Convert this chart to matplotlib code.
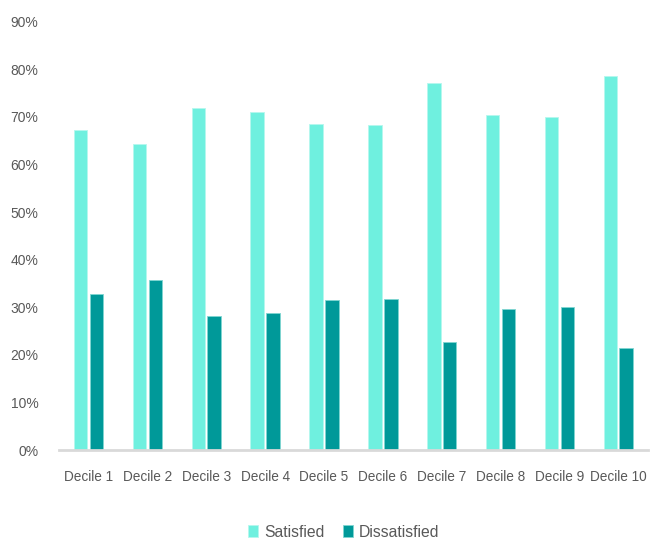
import numpy as np
import matplotlib.pyplot as plt

plt.rcParams['font.family'] = ['Liberation Sans', 'DejaVu Sans']

deciles = ['Decile 1', 'Decile 2', 'Decile 3', 'Decile 4', 'Decile 5',
           'Decile 6', 'Decile 7', 'Decile 8', 'Decile 9', 'Decile 10']
satisfied = [67.2, 64.3, 71.8, 71.1, 68.4, 68.3, 77.2, 70.3, 70.0, 78.6]
dissatisfied = [32.8, 35.7, 28.2, 28.9, 31.6, 31.7, 22.8, 29.7, 30.0, 21.4]

fig = plt.figure(figsize=(6.65, 5.41), dpi=100)
ax = fig.add_axes([0.089, 0.168, 0.885, 0.792])

x = np.arange(len(deciles))
w = 0.23
ax.bar(x - 0.135, np.array(satisfied) / 100, w, color='#6FF0DF',
       edgecolor='#B5F7EE', linewidth=0.6, label='Satisfied')
ax.bar(x + 0.135, np.array(dissatisfied) / 100, w, color='#009999',
       edgecolor='#7FD6D2', linewidth=0.6, label='Dissatisfied')

ax.set_xlim(-0.5, len(deciles) - 0.5)
ax.set_ylim(0, 0.9)
ax.set_yticks(np.arange(0, 0.91, 0.1))
ax.set_yticklabels(['%d%%' % (v * 10) for v in range(10)], fontsize=10)
ax.set_xticks(x)
ax.set_xticklabels(deciles, fontsize=9.8)
ax.tick_params(length=0, colors='#595959')
ax.tick_params(axis='y', pad=15)
ax.tick_params(axis='x', pad=14)

for s in ['top', 'right', 'left']:
    ax.spines[s].set_visible(False)
ax.spines['bottom'].set_color('#D9D9D9')
ax.spines['bottom'].set_linewidth(2)

leg = ax.legend(loc='center', bbox_to_anchor=(0.484, -0.192), ncol=2,
                frameon=False, fontsize=11.3, handlelength=0.6, handleheight=0.8,
                handletextpad=0.4, columnspacing=1.2)
for t in leg.get_texts():
    t.set_color('#595959')

fig.savefig('out.png', dpi=100)
